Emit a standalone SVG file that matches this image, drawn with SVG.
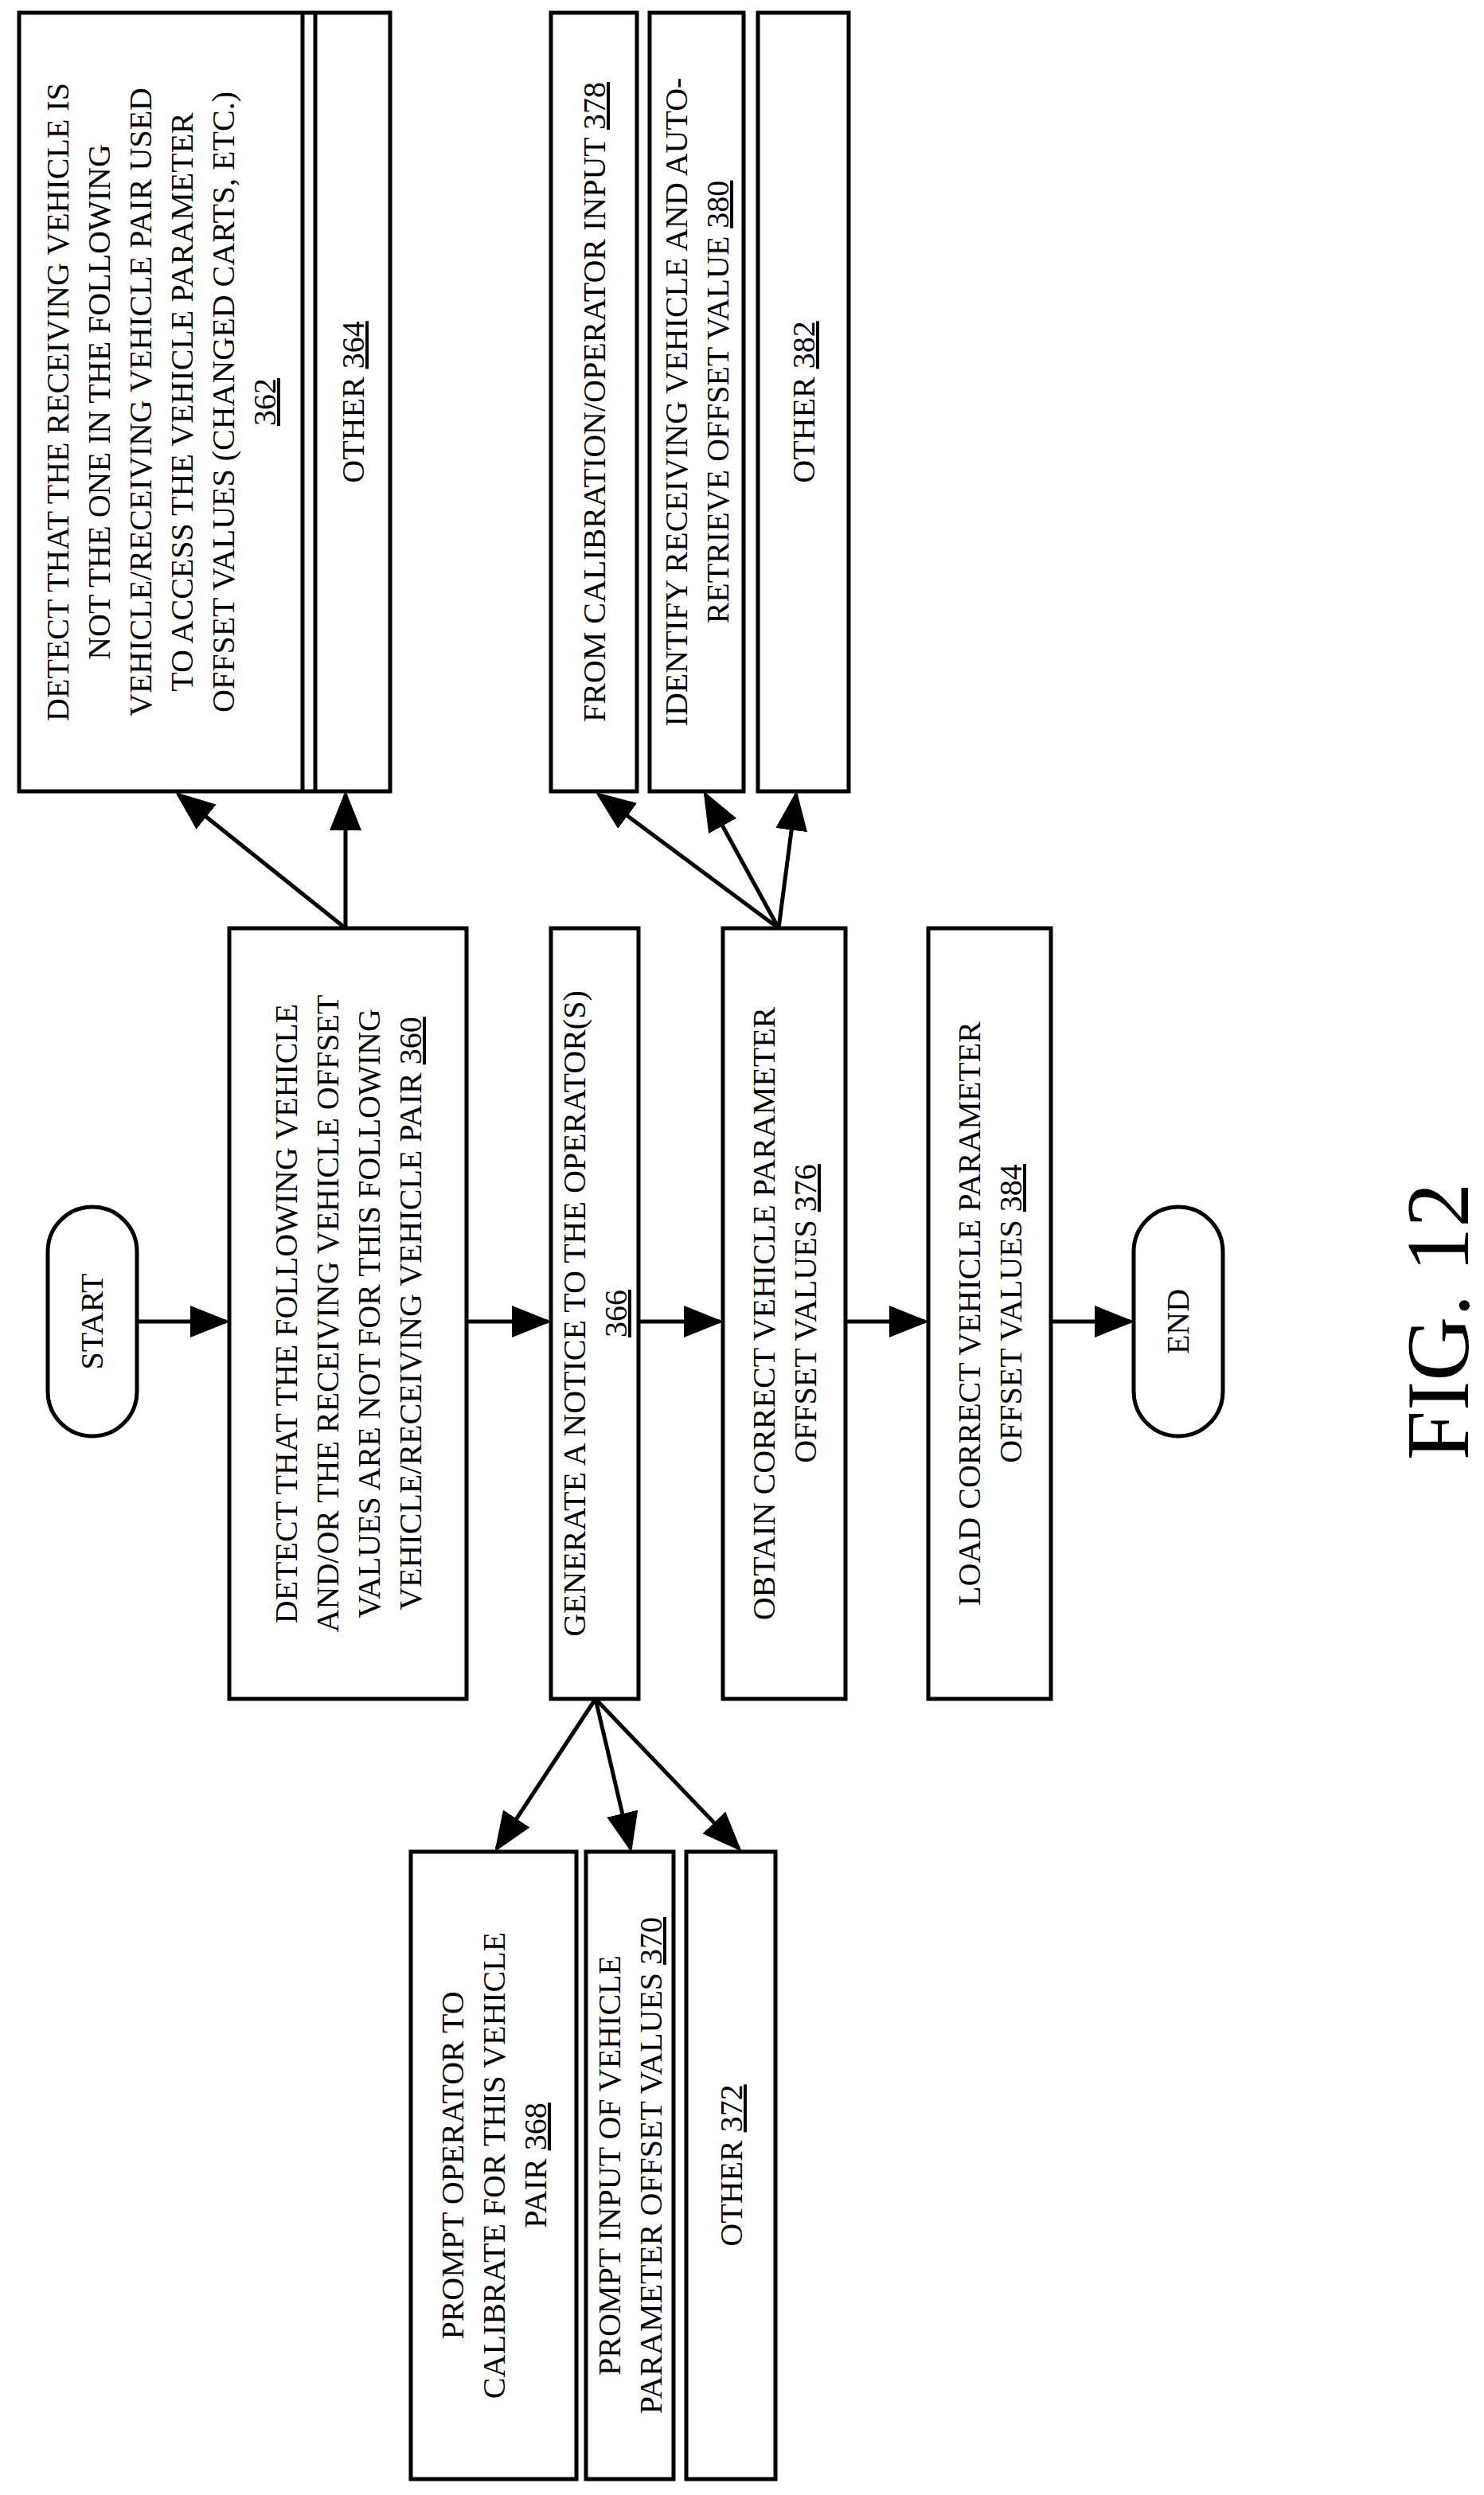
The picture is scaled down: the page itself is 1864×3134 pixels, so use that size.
<svg xmlns="http://www.w3.org/2000/svg" width="1864" height="3134" viewBox="0 0 1864 3134">
<style>
rect,.term{fill:#fff;stroke:#000;stroke-width:5}
text{font-family:"Liberation Serif","Times New Roman",serif;font-size:40px;fill:#000;text-anchor:middle}
.u{text-decoration:underline}
.c line{stroke:#000;stroke-width:5;marker-end:url(#ah)}
</style>
<defs><marker id="ah" markerWidth="10" markerHeight="8" refX="9" refY="4" orient="auto" markerUnits="strokeWidth"><path d="M0,0L10,4L0,8z" fill="#000"/></marker></defs>
<g class="c">
<line x1="172" y1="1660" x2="284" y2="1660"/>
<line x1="586" y1="1660" x2="688" y2="1660"/>
<line x1="802" y1="1660" x2="904" y2="1660"/>
<line x1="1062" y1="1660" x2="1162" y2="1660"/>
<line x1="1320" y1="1660" x2="1420" y2="1660"/>
<line x1="434" y1="1166" x2="224" y2="998"/>
<line x1="434" y1="1166" x2="434" y2="998"/>
<line x1="978" y1="1166" x2="752" y2="998"/>
<line x1="978" y1="1166" x2="886" y2="998"/>
<line x1="978" y1="1166" x2="1000" y2="998"/>
<line x1="748" y1="2134" x2="624" y2="2322"/>
<line x1="748" y1="2134" x2="792" y2="2322"/>
<line x1="748" y1="2134" x2="928" y2="2322"/>
</g>
<g id="start"><rect x="60" y="1516" width="112" height="288" rx="56" class="term"/><text transform="translate(116,1660) rotate(-90)" y="13">START</text></g>
<g id="end"><rect x="1424" y="1516" width="112" height="288" rx="56" class="term"/><text transform="translate(1480,1660) rotate(-90)" y="13">END</text></g>
<g id="n362"><rect x="24" y="16" width="466" height="978"/><line x1="380" y1="16" x2="380" y2="994" stroke="#000" stroke-width="5"/><line x1="396" y1="16" x2="396" y2="994" stroke="#000" stroke-width="5"/>
<text transform="translate(202,505) rotate(-90)"><tspan x="0" y="-116">DETECT THAT THE RECEIVING VEHICLE IS</tspan><tspan x="0" y="-64">NOT THE ONE IN THE FOLLOWING</tspan><tspan x="0" y="-12">VEHICLE/RECEIVING VEHICLE PAIR USED</tspan><tspan x="0" y="40">TO ACCESS THE VEHICLE PARAMETER</tspan><tspan x="0" y="92">OFFSET VALUES (CHANGED CARTS, ETC.)</tspan><tspan x="0" y="144" class="u">362</tspan></text></g>
<g id="n364"><text transform="translate(443,505) rotate(-90)" y="14">OTHER <tspan class="u">364</tspan></text></g>
<g id="n378"><rect x="692" y="16" width="108" height="978"/><text transform="translate(746,505) rotate(-90)" y="14">FROM CALIBRATION/OPERATOR INPUT <tspan class="u">378</tspan></text></g>
<g id="n380"><rect x="816" y="16" width="118" height="978"/><text transform="translate(875,505) rotate(-90)"><tspan x="0" y="-12">IDENTIFY RECEIVING VEHICLE AND AUTO-</tspan><tspan x="0" y="40">RETRIEVE OFFSET VALUE <tspan class="u">380</tspan></tspan></text></g>
<g id="n382"><rect x="952" y="16" width="114" height="978"/><text transform="translate(1009,505) rotate(-90)" y="14">OTHER <tspan class="u">382</tspan></text></g>
<g id="n360"><rect x="288" y="1166" width="298" height="968"/><text transform="translate(437,1650) rotate(-90)"><tspan x="0" y="-64">DETECT THAT THE FOLLOWING VEHICLE</tspan><tspan x="0" y="-12">AND/OR THE RECEIVING VEHICLE OFFSET</tspan><tspan x="0" y="40">VALUES ARE NOT FOR THIS FOLLOWING</tspan><tspan x="0" y="92">VEHICLE/RECEIVING VEHICLE PAIR <tspan class="u">360</tspan></tspan></text></g>
<g id="n366"><rect x="692" y="1166" width="110" height="968"/><text transform="translate(747,1650) rotate(-90)"><tspan x="0" y="-12">GENERATE A NOTICE TO THE OPERATOR(S)</tspan><tspan x="0" y="40" class="u">366</tspan></text></g>
<g id="n376"><rect x="908" y="1166" width="154" height="968"/><text transform="translate(985,1650) rotate(-90)"><tspan x="0" y="-12">OBTAIN CORRECT VEHICLE PARAMETER</tspan><tspan x="0" y="40">OFFSET VALUES <tspan class="u">376</tspan></tspan></text></g>
<g id="n384"><rect x="1166" y="1166" width="154" height="968"/><text transform="translate(1243,1650) rotate(-90)"><tspan x="0" y="-12">LOAD CORRECT VEHICLE PARAMETER</tspan><tspan x="0" y="40">OFFSET VALUES <tspan class="u">384</tspan></tspan></text></g>
<g id="n368"><rect x="516" y="2326" width="208" height="788"/><text transform="translate(620,2720) rotate(-90)"><tspan x="0" y="-38">PROMPT OPERATOR TO</tspan><tspan x="0" y="14">CALIBRATE FOR THIS VEHICLE</tspan><tspan x="0" y="66">PAIR <tspan class="u">368</tspan></tspan></text></g>
<g id="n370"><rect x="736" y="2326" width="110" height="788"/><text transform="translate(791,2720) rotate(-90)"><tspan x="0" y="-12">PROMPT INPUT OF VEHICLE</tspan><tspan x="0" y="40">PARAMETER OFFSET VALUES <tspan class="u">370</tspan></tspan></text></g>
<g id="n372"><rect x="862" y="2326" width="112" height="788"/><text transform="translate(918,2720) rotate(-90)" y="14">OTHER <tspan class="u">372</tspan></text></g>
<text transform="translate(1766,1660) rotate(-90)" y="78" style="font-size:112px">FIG. 12</text>
</svg>
